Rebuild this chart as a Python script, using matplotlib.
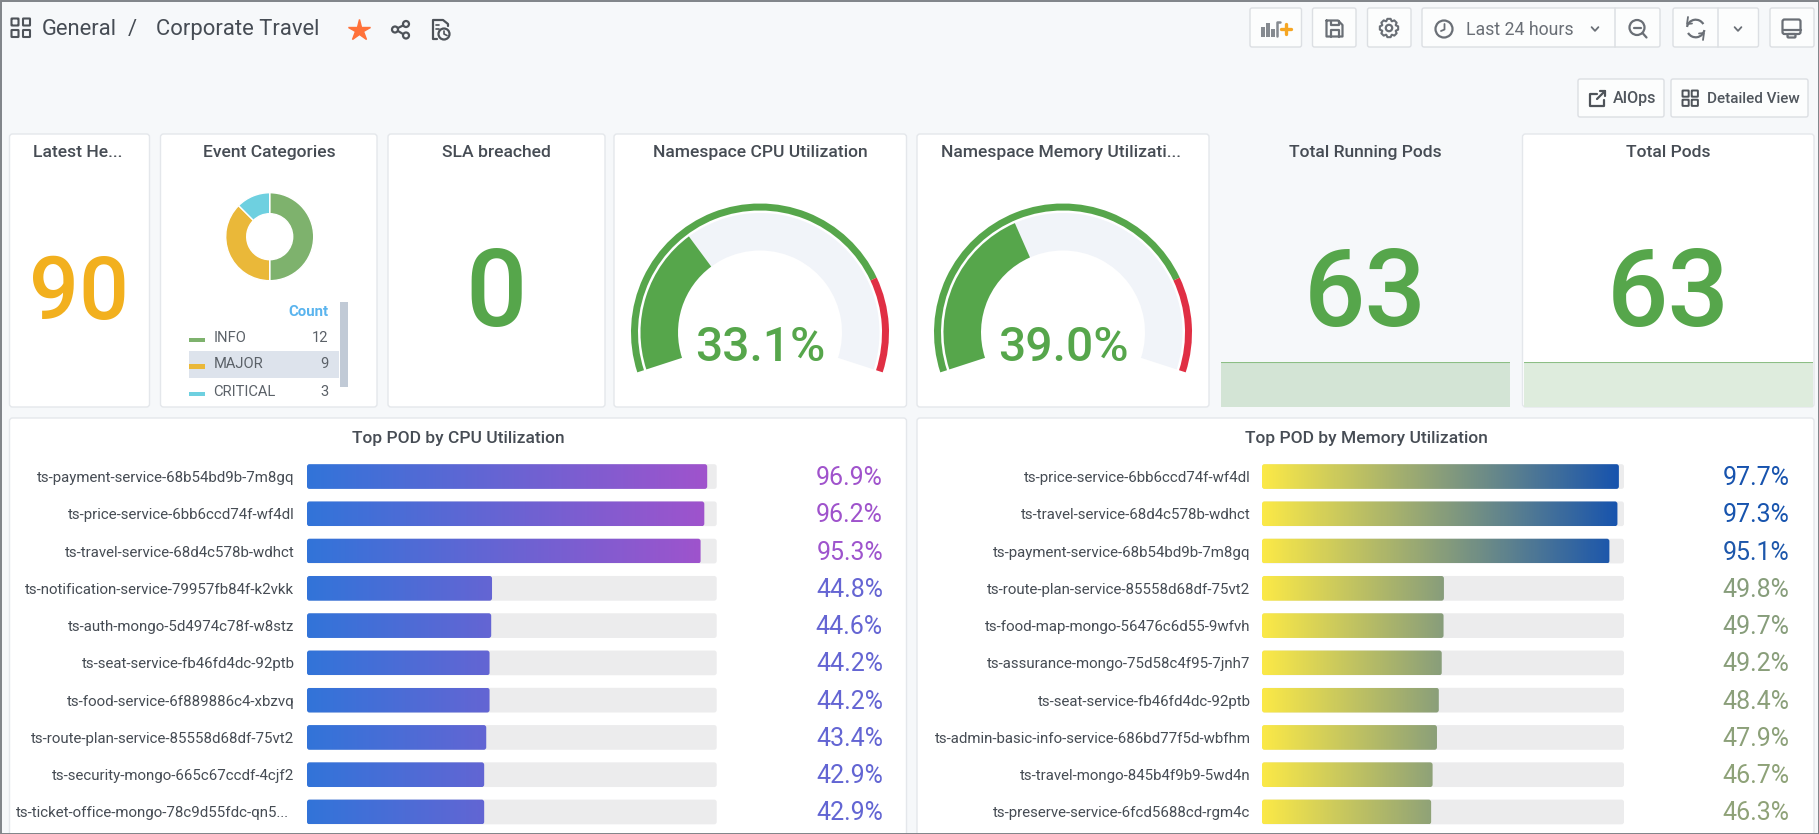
import numpy as np
import matplotlib
matplotlib.use("Agg")
import matplotlib.pyplot as plt
from matplotlib.patches import FancyBboxPatch, Rectangle, Circle, Arc, Polygon
from matplotlib.colors import LinearSegmentedColormap
from matplotlib.transforms import ScaledTranslation

plt.rcParams['font.family'] = ['Roboto', 'DejaVu Sans']

W, H = 1819, 834

# ---- data ----
latest_health = "90"
sla_breached = "0"
event_labels = ["INFO", "MAJOR", "CRITICAL"]
event_counts = [12, 9, 3]
event_colors = ["#7eb26d", "#eab839", "#6ed0e0"]
cpu_gauge = 33.1
mem_gauge = 39.0
gauge_threshold = 80
running_pods = [63, 63, 63, 63, 63, 63]
total_pods = [63, 63, 63, 63, 63, 63]
cpu_pods = ["ts-payment-service-68b54bd9b-7m8gq", "ts-price-service-6bb6ccd74f-wf4dl",
            "ts-travel-service-68d4c578b-wdhct", "ts-notification-service-79957fb84f-k2vkk",
            "ts-auth-mongo-5d4974c78f-w8stz", "ts-seat-service-fb46fd4dc-92ptb",
            "ts-food-service-6f889886c4-xbzvq", "ts-route-plan-service-85558d68df-75vt2",
            "ts-security-mongo-665c67ccdf-4cjf2", "ts-ticket-office-mongo-78c9d55fdc-qn5..."]
cpu_vals = [96.9, 96.2, 95.3, 44.8, 44.6, 44.2, 44.2, 43.4, 42.9, 42.9]
mem_pods = ["ts-price-service-6bb6ccd74f-wf4dl", "ts-travel-service-68d4c578b-wdhct",
            "ts-payment-service-68b54bd9b-7m8gq", "ts-route-plan-service-85558d68df-75vt2",
            "ts-food-map-mongo-56476c6d55-9wfvh", "ts-assurance-mongo-75d58c4f95-7jnh7",
            "ts-seat-service-fb46fd4dc-92ptb", "ts-admin-basic-info-service-686bd77f5d-wbfhm",
            "ts-travel-mongo-845b4f9b9-5wd4n", "ts-preserve-service-6fcd5688cd-rgm4c"]
mem_vals = [97.7, 97.3, 95.1, 49.8, 49.7, 49.2, 48.4, 47.9, 46.7, 46.3]

BG = "#f6f8fa"
TXT = "#464c54"
GREEN = "#56a64b"
RED = "#e02f44"
BORDER = "#e4e7eb"
BTN_EDGE = "#dcdfe3"
ICON = "#6a6f76"
DARK_ICON = "#4e5359"

fig = plt.figure(figsize=(W / 100, H / 100), dpi=100, facecolor=BG)
bg = fig.add_axes([0, 0, 1, 1])
bg.set_xlim(0, W)
bg.set_ylim(H, 0)
bg.axis("off")


def axes_px(x0, y0, x1, y1, **kw):
    return fig.add_axes([x0 / W, 1 - y1 / H, (x1 - x0) / W, (y1 - y0) / H], **kw)


def panel(x0, y0, x1, y1, fc="white", ec=BORDER, r=3):
    bg.add_patch(FancyBboxPatch((x0, y0), x1 - x0, y1 - y0,
                                boxstyle=f"round,pad=0,rounding_size={r}",
                                fc=fc, ec=ec, lw=1.0, zorder=1))


def text(x, y, s, px, color=TXT, ha="center", weight="normal", va="center"):
    return bg.text(x, y, s, fontsize=px * 0.72, color=color, ha=ha, va=va,
                   fontweight=weight, zorder=5)


def line(xs, ys, color=ICON, lw=1.6, **kw):
    bg.plot(xs, ys, color=color, lw=lw, solid_capstyle="round",
            solid_joinstyle="round", zorder=6, **kw)


def box(x0, y0, x1, y1, color=ICON, lw=1.6, r=1.5, fc="none"):
    bg.add_patch(FancyBboxPatch((x0, y0), x1 - x0, y1 - y0,
                                boxstyle=f"round,pad=0,rounding_size={r}",
                                fc=fc, ec=color, lw=lw, zorder=6))


def circ(x, y, r, color=ICON, lw=1.6, fc="none"):
    bg.add_patch(Circle((x, y), r, fc=fc, ec=color, lw=lw, zorder=6))


def arc(x, y, r, a0, a1, color=ICON, lw=1.6):
    bg.add_patch(Arc((x, y), 2 * r, 2 * r, theta1=a0, theta2=a1, color=color, lw=lw, zorder=6))


def grid_icon(x0, y0, s, gap, color=ICON, lw=1.5):
    for i in range(2):
        for j in range(2):
            bx = x0 + i * (s + gap)
            by = y0 + j * (s + gap)
            box(bx, by, bx + s, by + s, color=color, lw=lw, r=0.5)


def chevron(x, y, s=3.4):
    line([x - s, x, x + s], [y - s * 0.55, y + s * 0.55, y - s * 0.55], lw=1.3)


def gear(x, y, r_out, r_in, teeth=8):
    pts = []
    for k in range(teeth):
        a = 2 * np.pi * k / teeth
        w = np.pi / teeth
        for da, rr in [(-w * 0.95, r_in), (-w * 0.45, r_out), (w * 0.45, r_out), (w * 0.95, r_in)]:
            pts.append((x + rr * np.cos(a + da), y + rr * np.sin(a + da)))
    bg.add_patch(Polygon(pts, closed=True, fc="none", ec=ICON, lw=1.5, joinstyle="round", zorder=6))


# ---- header ----
grid_icon(11.5, 18.5, 7, 4.5, color=DARK_ICON)
text(42, 29, "General", 22, ha="left")
text(132.5, 29, "/", 22)
text(156, 29, "Corporate Travel", 22, ha="left")
bg.plot([358.7], [29.5], marker="*", ms=16, color="#ff7139", mec="#ff7139", zorder=6)
# share
for cx, cy in [(395, 29.5), (406, 24), (406, 35.5)]:
    circ(cx, cy, 3, color=DARK_ICON)
line([398, 403], [28, 25.5], color=DARK_ICON)
line([398, 403], [31, 34], color=DARK_ICON)
# doc + clock
line([448, 448, 443, 433, 433, 437], [26, 24, 20, 20, 39, 39], color=DARK_ICON)
circ(444, 34, 5.5, color=DARK_ICON)
line([444, 444, 447], [31, 34, 35.5], color=DARK_ICON, lw=1.2)
line([436, 439], [25, 25], color=DARK_ICON, lw=1.2)
line([436, 439], [29, 29], color=DARK_ICON, lw=1.2)

# ---- toolbar buttons ----
for x0, y0, x1, y1 in [(1250, 8, 1301.5, 47), (1312.5, 8, 1356, 47), (1367.5, 8, 1411, 47),
                       (1422, 8, 1660, 47), (1673, 8, 1758.5, 47), (1770, 8, 1814, 47),
                       (1578, 79, 1664, 117), (1671, 79, 1808, 117)]:
    panel(x0, y0, x1, y1, fc="#fcfdfd", ec=BTN_EDGE, r=2)
line([1615, 1615], [8, 47], color=BTN_EDGE, lw=1.1)
line([1717.5, 1717.5], [8, 47], color=BTN_EDGE, lw=1.1)

# add-panel icon
for bx, bh in [(1261, 10), (1266, 14), (1271, 8)]:
    bg.add_patch(Rectangle((bx, 37 - bh), 3.8, bh, fc="#858a90", ec="none", zorder=6))
line([1277, 1277, 1280], [36, 22, 22], color="#858a90", lw=1.8)
line([1285.5, 1285.5], [24, 34], color="#f5a623", lw=2.4)
line([1280.5, 1290.5], [29, 29], color="#f5a623", lw=2.4)
# save
line([1326.5, 1338, 1342.5, 1342.5, 1326.5, 1326.5], [20.5, 20.5, 25, 36.5, 36.5, 20.5])
line([1330.5, 1330.5, 1338.5, 1338.5], [20.5, 25, 25, 20.5])
line([1330.5, 1330.5, 1338.5, 1338.5], [36.5, 30, 30, 36.5])
# gear
gear(1389, 28, 9.3, 7.3)
circ(1389, 28, 3.2)
# clock
circ(1444, 29, 8.5)
line([1444.5, 1444.5, 1441], [24, 29.5, 31], lw=1.3)
text(1466, 29.5, "Last 24 hours", 17.7, color="#6a6f76", ha="left")
chevron(1595, 29)
# zoom out
circ(1637, 27.5, 7.5)
line([1642.5, 1646.5], [33, 37.5])
line([1633.5, 1640.5], [27.5, 27.5])
# refresh
arc(1695.7, 28.5, 8.8, 10, 150)
arc(1695.7, 28.5, 8.8, 190, 330)
line([1688, 1687, 1692], [17, 24, 23.5], lw=1.3)
line([1703, 1704, 1699], [40, 33, 33.5], lw=1.3)
chevron(1738, 29)
# monitor
box(1782.5, 19.5, 1800.5, 34, r=2)
line([1782.5, 1800.5], [29.5, 29.5])
box(1787.5, 34, 1795.5, 37.5, r=1)

# second row buttons
line([1597, 1590, 1590, 1604, 1604], [94, 94, 106, 106, 100], color=DARK_ICON)
line([1597, 1605], [99, 91], color=DARK_ICON)
line([1600, 1605, 1605], [91, 91, 96], color=DARK_ICON)
text(1613, 98.5, "AIOps", 16, ha="left", weight="medium", color="#50565d")
grid_icon(1682.5, 90.5, 6.2, 3, color=DARK_ICON, lw=1.4)
text(1706.5, 98.5, "Detailed View", 15.2, ha="left", weight="medium", color="#50565d")

# ---- stat panels ----
panel(9.5, 134, 149.5, 407)
panel(160.5, 134, 377, 407)
panel(388, 134, 605, 407)
panel(614, 134, 906.5, 407)
panel(917, 134, 1209, 407)
panel(1522.5, 134, 1814, 407)
panel(9.5, 418, 906.5, 860)
panel(917, 418, 1814, 860)

for cx, s in [(78, "Latest He..."), (269, "Event Categories"), (496, "SLA breached"),
              (760.5, "Namespace CPU Utilization"), (1060.5, "Namespace Memory Utilizati..."),
              (1365, "Total Running Pods"), (1668, "Total Pods")]:
    text(cx, 152.5, s, 17.5, weight="medium")

text(79, 319.5, latest_health, 88, color="#f2b01e", weight="medium", va="baseline")
text(496, 326, sla_breached, 108, color=GREEN, weight="medium", va="baseline")
text(1365, 326, str(running_pods[-1]), 108, color=GREEN, weight="medium", va="baseline")
text(1668, 326, str(total_pods[-1]), 108, color=GREEN, weight="medium", va="baseline")

# ---- donut ----
pie_ax = axes_px(269.7 - 46, 236.7 - 46, 269.7 + 46, 236.7 + 46)
pie_ax.pie(event_counts, colors=event_colors, startangle=90, counterclock=False, radius=44 / 46,
           wedgeprops=dict(width=21 / 46, edgecolor="white", linewidth=1.0))
pie_ax.set_xlim(-1, 1)
pie_ax.set_ylim(-1, 1)

# legend table
text(328.6, 312.5, "Count", 15, color="#5ab4ee", ha="right", weight="bold")
bg.add_patch(Rectangle((189, 351), 150, 27, fc="#dde3ec", ec="none", zorder=2))
bg.add_patch(Rectangle((340, 302), 8, 85, fc="#c1cad6", ec="none", zorder=2))
for yy, lab, n, c in zip([337.5, 364, 391.5], event_labels, event_counts, event_colors):
    bg.add_patch(Rectangle((189, yy), 15.5, 4.5, fc=c, ec="none", zorder=3))
    text(213.5, yy, lab, 14.8, color="#5b6168", ha="left")
    text(328.6, yy, str(n), 14.8, color="#5b6168", ha="right")


# ---- gauges ----
def gauge(cx, cy, value):
    R = 131
    ax = axes_px(cx - R, cy - R, cx + R, cy + R, projection="polar")
    ax.set_ylim(0, R)
    ax.axis("off")
    ax.patch.set_alpha(0)
    start, span = 198.0, 216.0

    def seg(a, b, r0, r1, color):
        t0 = np.radians(start - span * a / 100)
        t1 = np.radians(start - span * b / 100)
        ax.bar((t0 + t1) / 2, r1 - r0, width=abs(t0 - t1), bottom=r0, color=color, lw=0)

    seg(0, 100, 82, 119.5, "#f1f4f9")
    seg(0, value, 82, 119.5, GREEN)
    seg(0, gauge_threshold, 122, 129, GREEN)
    seg(gauge_threshold, 100, 122, 129, RED)
    text(cx, 360.5, f"{value:.1f}%", 48, color=GREEN, weight="medium", va="baseline")


gauge(760, 332.5, cpu_gauge)
gauge(1063, 332.5, mem_gauge)


# ---- sparklines ----
def spark(x0, x1, series, fc, lc):
    ax = axes_px(x0, 361.5, x1, 407)
    xs = np.arange(len(series))
    ax.fill_between(xs, series, 0, color=fc, lw=0)
    ax.plot(xs, series, color=lc, lw=1.5)
    ax.set_xlim(0, len(series) - 1)
    ax.set_ylim(0, 64.4)
    ax.axis("off")
    ax.patch.set_alpha(0)


spark(1221, 1510, running_pods, "#d3e4d5", "#8cbe85")
spark(1524, 1813, total_pods, "#deecdd", "#8cbe85")


# ---- bar gauges ----
def bars(x0, x1, xmax, pods, vals, colors, label_right, value_right, title, title_x):
    text(title_x, 438, title, 17.4, weight="medium")
    cmap = LinearSegmentedColormap.from_list("g", colors)
    y0, y1 = 457.9, 830.6
    ax = axes_px(x0, y0, x1, y1)
    ax.patch.set_alpha(0)
    xs = (x1 - x0) / xmax
    ys = (y1 - y0) / len(vals)
    aspect = xs / ys
    h = 24.7 / ys
    r = 2.5 / xs
    for i, v in enumerate(vals):
        ax.add_patch(FancyBboxPatch((0, i - h / 2), xmax, h,
                                    boxstyle=f"round,pad=0,rounding_size={r}",
                                    mutation_aspect=aspect, fc="#ececed", ec="none", zorder=1))
        clip = FancyBboxPatch((0, i - h / 2), v, h,
                              boxstyle=f"round,pad=0,rounding_size={r}",
                              mutation_aspect=aspect, fc="none", ec="none", zorder=2)
        ax.add_patch(clip)
        im = ax.imshow(np.linspace(0, v / 100, 256).reshape(1, -1), cmap=cmap, vmin=0, vmax=1,
                       extent=(0, v, i + h / 2, i - h / 2), aspect="auto", zorder=2)
        im.set_clip_path(clip)
        ax.text((value_right - x0) / xs, i + 1.5 / ys, f"{v:.1f}%", fontsize=25 * 0.72, ha="right",
                va="center", color=cmap(v / 100), clip_on=False)
    ax.set_xlim(0, xmax)
    ax.set_ylim(len(vals) - 0.5, -0.5)
    ax.set_yticks(range(len(vals)))
    ax.set_yticklabels(pods, fontsize=15 * 0.72, color=TXT)
    ax.set_xticks([])
    ax.tick_params(axis="y", length=0, pad=(x0 - label_right) * 0.72)
    for s in ax.spines.values():
        s.set_visible(False)
    for lab in ax.get_yticklabels():
        if lab.get_text().endswith("..."):
            lab.set_transform(lab.get_transform() + ScaledTranslation(-5 / 100, 0, fig.dpi_scale_trans))


bars(307, 716.7, 99.2, cpu_pods, cpu_vals, ["#3274d9", "#a352cc"], 294.5, 883,
     "Top POD by CPU Utilization", 458)
bars(1262, 1624, 99.1, mem_pods, mem_vals, ["#fbe947", "#1250b0"], 1250.5, 1789.5,
     "Top POD by Memory Utilization", 1366)

# outer frame
bg.add_patch(Rectangle((0.5, 0.5), W - 1, H - 1, fc="none", ec="#7f8388", lw=1.4, zorder=20, clip_on=False))

fig.savefig("out.png", dpi=100, facecolor=BG)
